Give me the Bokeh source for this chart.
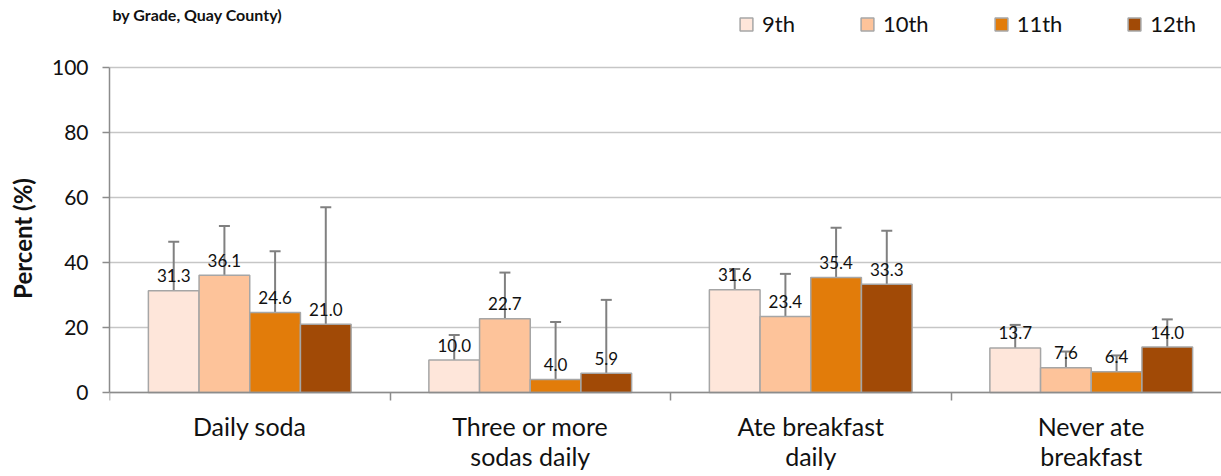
import numpy as np
from bokeh.plotting import figure
from bokeh.models import (ColumnDataSource, Range1d, FixedTicker, Whisker, TeeHead,
                          Legend, LegendItem, Label)
from bokeh.core.properties import value
from bokeh.embed import file_html
from bokeh.resources import INLINE

categories = ["Daily soda", "Three or more\nsodas daily", "Ate breakfast\ndaily", "Never ate\nbreakfast"]
grades = ["9th", "10th", "11th", "12th"]
colors = ["#FEE6DA", "#FDC39A", "#E27C0A", "#A14A06"]

v9 = [31.3, 10.0, 31.6, 13.7]
v10 = [36.1, 22.7, 23.4, 7.6]
v11 = [24.6, 4.0, 35.4, 6.4]
v12 = [21.0, 5.9, 33.3, 14.0]

lo9 = [19.6, 5.9, 26.2, 9.1]
lo10 = [23.8, 13.1, 14.2, 4.6]
lo11 = [12.4, 0.8, 22.8, 3.0]
lo12 = [5.3, 1.2, 20.2, 8.6]

hi9 = [46.4, 17.7, 38.0, 20.8]
hi10 = [51.2, 36.9, 36.5, 12.6]
hi11 = [43.5, 21.7, 50.7, 11.4]
hi12 = [57.0, 28.5, 49.8, 22.5]

y_ticks = [0, 20, 40, 60, 80, 100]
title_text = "by Grade, Quay County)"
y_title = "Percent (%)"

values = [v9, v10, v11, v12]
lows = [lo9, lo10, lo11, lo12]
highs = [hi9, hi10, hi11, hi12]

FONT = "Lato"
GRID = "#C6C6C6"
AXIS = "#8C8C8C"
TXT = "#111111"

# frame covers the full height; value 0 sits at 392px, 3.25 px per percent, 280.5 px per category
PX = 3.25
p = figure(width=1221, height=476, output_backend="svg", toolbar_location=None,
           x_range=Range1d(0, 1112 / 280.5), y_range=Range1d(-84 / PX, 392 / PX),
           min_border_left=109, min_border_right=0, min_border_top=0, min_border_bottom=0)
p.outline_line_color = None
p.background_fill_color = "white"
p.border_fill_color = "white"

bw = 0.1807
offsets = [-1.5 * bw, -0.5 * bw, 0.5 * bw, 1.5 * bw]
centers = np.arange(len(categories)) + 0.5

renderers = []
for g, c, vals, lo, hi, off in zip(grades, colors, values, lows, highs, offsets):
    src = ColumnDataSource(dict(x=centers + off, top=vals, lo=lo, hi=hi,
                                lbl=[f"{v:.1f}" for v in vals]))
    r = p.vbar(x="x", top="top", bottom=0, width=bw, source=src, fill_color=c,
               line_color="#A6A6A6", line_width=1.5)
    renderers.append((g, r))
    w = Whisker(base="x", lower="lo", upper="hi", source=src, line_color="#808080",
                line_width=2,
                upper_head=TeeHead(size=11, line_color="#808080", line_width=2),
                lower_head=TeeHead(size=11, line_color="#808080", line_width=2))
    p.add_layout(w)
    p.text(x="x", y="top", text="lbl", source=src, text_font=value(FONT),
           text_font_size="17px", text_align="center", text_baseline="alphabetic",
           y_offset=-15, text_color=TXT)

# axes
p.xgrid.visible = False
p.ygrid.grid_line_color = GRID
p.ygrid.grid_line_width = 1.5
p.yaxis.ticker = FixedTicker(ticks=y_ticks)
p.yaxis.bounds = (0, 100)
p.yaxis.major_tick_out = 7
p.yaxis.major_tick_in = 0
p.yaxis.minor_tick_line_color = None
p.yaxis.axis_line_color = AXIS
p.yaxis.axis_line_width = 1.5
p.yaxis.major_tick_line_color = AXIS
p.yaxis.major_tick_line_width = 1.5
p.yaxis.major_label_text_font = FONT
p.yaxis.major_label_text_font_size = "21px"
p.yaxis.major_label_text_color = TXT
p.yaxis.major_label_standoff = 14
p.yaxis.axis_label = y_title
p.yaxis.axis_label_text_font = FONT
p.yaxis.axis_label_text_font_size = "24px"
p.yaxis.axis_label_text_font_style = "bold"
p.yaxis.axis_label_text_color = TXT
p.yaxis.axis_label_standoff = 12

p.xaxis.fixed_location = 0
p.xaxis.ticker = FixedTicker(ticks=list(centers), minor_ticks=[0, 1, 2, 3])
p.xaxis.major_label_overrides = {float(c): lab for c, lab in zip(centers, categories)}
p.xaxis.major_tick_line_color = None
p.xaxis.minor_tick_line_color = AXIS
p.xaxis.minor_tick_line_width = 1.5
p.xaxis.minor_tick_out = 8
p.xaxis.minor_tick_in = 0
p.xaxis.major_tick_out = 8
p.xaxis.major_tick_in = 0
p.xaxis.axis_line_color = AXIS
p.xaxis.axis_line_width = 1.5
p.xaxis.major_label_text_font = FONT
p.xaxis.major_label_text_font_size = "25px"
p.xaxis.major_label_text_line_height = 1.03
p.xaxis.major_label_text_color = TXT
p.xaxis.major_label_standoff = 10

legend = Legend(items=[LegendItem(label=g, renderers=[r]) for g, r in renderers],
                orientation="horizontal", location=(629, 439),
                glyph_width=16, glyph_height=16, label_standoff=8, spacing=64,
                label_text_font=FONT, label_text_font_size="22px",
                label_text_color=TXT, padding=0, margin=0,
                border_line_color=None, background_fill_alpha=0)
p.add_layout(legend, "center")

title = Label(x=3 / 280.5, y=(392 - 14) / PX, text=title_text, text_font=FONT,
              text_font_size="16px", text_font_style="bold", text_color=TXT,
              text_baseline="alphabetic")
p.add_layout(title)

open("out.html", "w").write(file_html(p, INLINE))
